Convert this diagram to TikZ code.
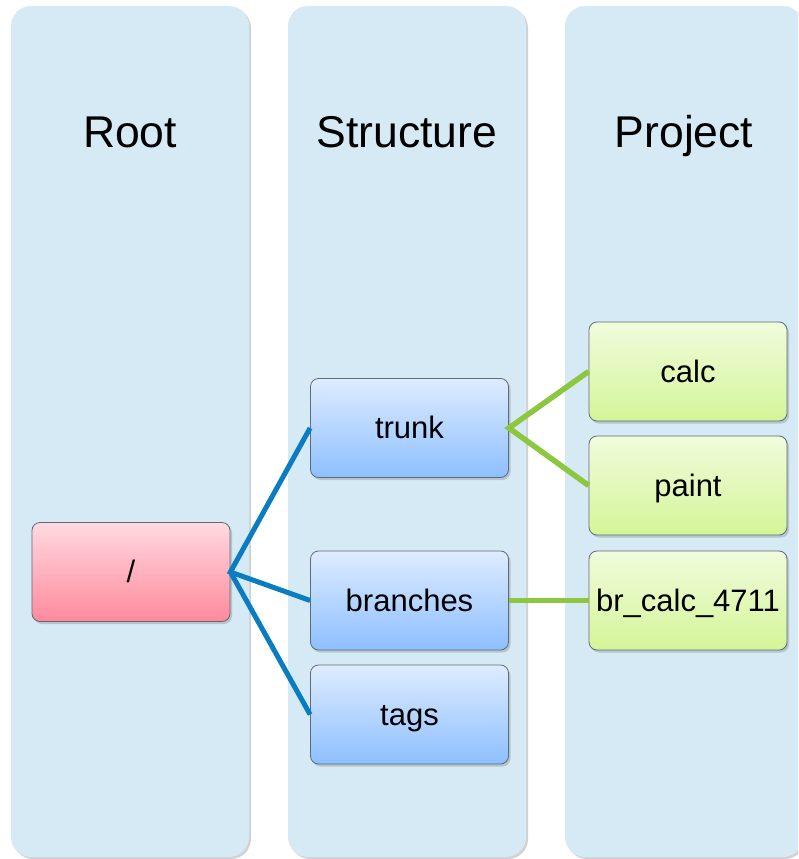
\documentclass[tikz,border=0pt]{standalone}
\usepackage{fontspec}
\setmainfont{Liberation Sans}
\usetikzlibrary{shadows}
\definecolor{colfill}{HTML}{D5EAF5}
\definecolor{edgeline}{HTML}{5E6A75}
\definecolor{bluelink}{HTML}{0A7DC2}
\definecolor{greenlink}{HTML}{8DC63F}
\tikzset{
  lane/.style={fill=colfill, rounded corners=20pt,
    drop shadow={shadow xshift=2pt, shadow yshift=-2pt, opacity=0.35, fill=gray}},
  lanetitle/.style={font=\fontsize{44.5}{50}\selectfont, text=black, anchor=base, inner sep=0pt},
  box/.style={draw=edgeline, line width=0.8pt, rounded corners=8pt,
    minimum width=198pt, minimum height=99pt, inner sep=0pt,
    text height=21pt, text depth=0pt,
    font=\fontsize{31}{36}\selectfont,
    drop shadow={shadow xshift=2pt, shadow yshift=-2.5pt, opacity=0.35}},
  rootbox/.style={box, top color={rgb,255:red,255;green,218;blue,225}, bottom color={rgb,255:red,255;green,137;blue,156}},
  structbox/.style={box, top color={rgb,255:red,222;green,236;blue,255}, bottom color={rgb,255:red,141;green,191;blue,255}},
  projbox/.style={box, top color={rgb,255:red,240;green,252;blue,220}, bottom color={rgb,255:red,212;green,245;blue,152}},
  bluewire/.style={draw=bluelink, line width=5pt},
  greenwire/.style={draw=greenlink, line width=5.5pt}
}
\begin{document}
\begin{tikzpicture}[x=1pt,y=-1pt]
\useasboundingbox (0,0) rectangle (798,859);
\fill[white] (0,0) rectangle (798,859);
\begin{scope}
\clip (0,0) rectangle (798,859);
\path[lane] (11,6) rectangle (249,857);
\path[lane] (288,6) rectangle (526,857);
\path[lane] (565,6) rectangle (803,857);
\end{scope}
\node[lanetitle] (troot) at (130,147) {Root};
\node[lanetitle] (tstruct) at (407,147) {Structure};
\node[lanetitle] (tproj) at (684,147) {Project};

\node[rootbox] (root) at (131,572) {/};
\node[structbox] (trunk) at (409.5,428) {trunk};
\node[structbox] (branches) at (409.5,600.5) {branches};
\node[structbox] (tags) at (409.5,714.5) {tags};
\node[projbox] (calc) at (688,371.5) {calc};
\node[projbox] (paint) at (688,485.5) {paint};
\node[projbox] (brcalc) at (688,600.5) {br\_calc\_4711};

\draw[bluewire] (trunk.west) -- (root.east) -- (branches.west);
\draw[bluewire] (root.east) -- (tags.west);
\draw[greenwire] (calc.west) -- (trunk.east) -- (paint.west);
\draw[greenwire] (branches.east) -- (brcalc.west);
\end{tikzpicture}
\end{document}
